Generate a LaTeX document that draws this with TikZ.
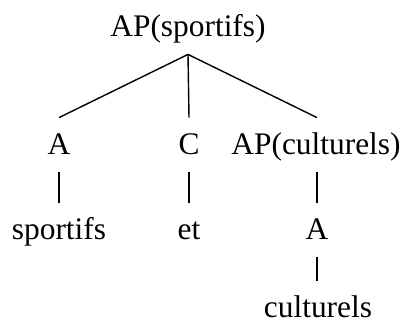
\documentclass[tikz,border=0pt]{standalone}
\usepackage{fontspec}
\setmainfont{Liberation Serif}
\usepackage{tikz}

\begin{document}
\begin{tikzpicture}[x=0.5pt, y=-0.5pt,
		cat/.style={anchor=base, inner xsep=0pt, inner ysep=7.5pt, text height=10.5pt, text depth=1.5pt, font=\fontsize{15.7}{19}\selectfont},
		branch/.style={line width=0.7pt}]
				\useasboundingbox (0,0) rectangle (406,329);
				
				% Root
				\node[cat] (root) at (188,36) {AP(sportifs)};
				
				% Daughters
				\node[cat] (adj) at (59,154) {A};
				\node[cat] (conj) at (189,154) {C};
				\node[cat] (apcult) at (316,154) {AP(culturels)};
				
				% Words
				\node[cat] (wsport) at (59,239) {sportifs};
				\node[cat] (wet) at (189,239) {et};
				\node[cat] (adjcult) at (317,239) {A};
				\node[cat] (wcult) at (318,317) {culturels};
				
				% Branches
				\draw[branch] (root.south) -- (adj.north);
				\draw[branch] (root.south) -- (conj.north);
				\draw[branch] (root.south) -- (apcult.north -| adjcult.north);
				\draw[branch] (adj.south) -- (wsport.north);
				\draw[branch] (conj.south) -- (wet.north);
				\draw[branch] (apcult.south -| adjcult.north) -- (adjcult.north);
				\draw[branch] (adjcult.south) -- (wcult.north -| adjcult.south);
				
			\end{tikzpicture}
\end{document}
